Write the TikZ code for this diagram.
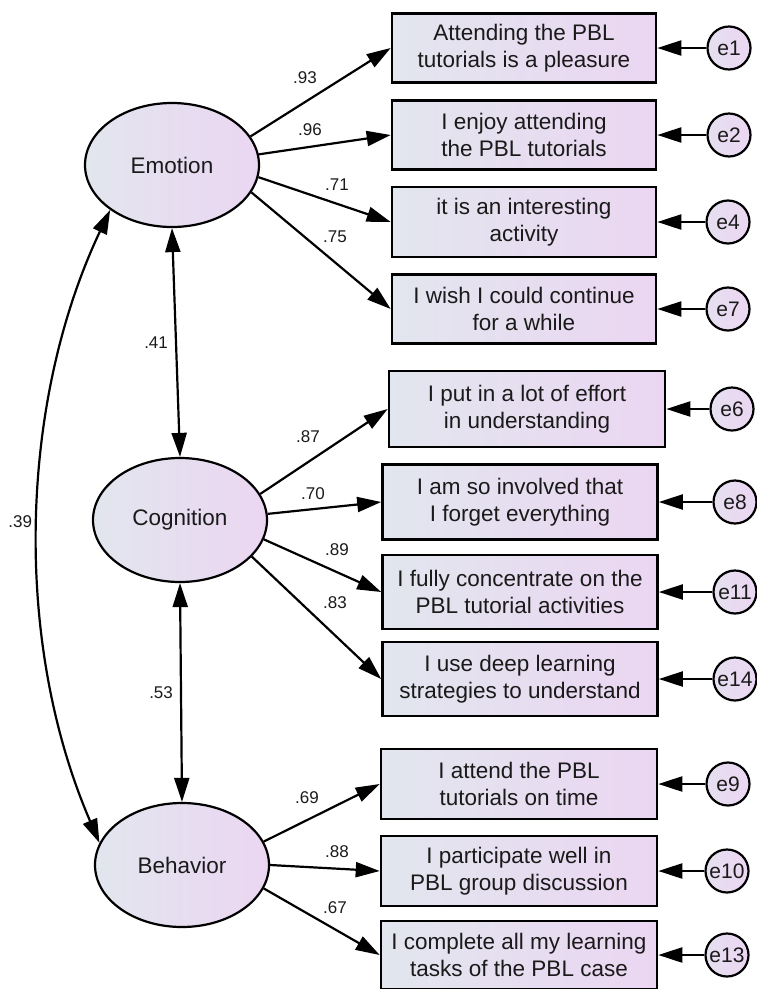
\documentclass[tikz,border=0pt]{standalone}
\usepackage{fontspec}
\setmainfont{Liberation Sans}
\usetikzlibrary{arrows.meta,shapes.geometric}
\definecolor{semleft}{HTML}{E2E6EE}
\definecolor{semright}{HTML}{EBD6F2}
\definecolor{semtext}{HTML}{1A1A1A}
\tikzset{
  latent/.style={ellipse, draw, line width=2.2pt, left color=semleft,
    right color=semright, minimum width=174pt, minimum height=124pt,
    inner sep=0pt, text=semtext, font=\fontsize{22.5}{26}\selectfont},
  item/.style={rectangle, draw, line width=2.6pt, left color=semleft,
    right color=semright, align=center, inner sep=0pt, text=semtext,
    font=\fontsize{22.5}{27}\selectfont},
  err/.style={circle, draw, line width=2.2pt, left color=semleft!60!semright,
    right color=semright, minimum size=43pt, inner sep=0pt, text=semtext,
    font=\fontsize{21}{21}\selectfont},
  lbl/.style={inner sep=0pt, text=semtext, font=\fontsize{17}{17}\selectfont},
  loading/.style={line width=2.2pt, -{Triangle[length=24pt,width=15pt]}},
  covar/.style={line width=2.2pt,
    {Triangle[length=24pt,width=15pt]}-{Triangle[length=24pt,width=15pt]}}
}
\begin{document}
\begin{tikzpicture}[x=1pt,y=-1pt]
  \useasboundingbox (0,0) rectangle (756,989);
  % latent factors
  \node[latent] (emo) at (172,165) {Emotion};
  \node[latent] (cog) at (180,520) {Cognition};
  \node[latent] (beh) at (182,865) {Behavior};
  % items with their error terms
  \foreach \nm/\x/\y/\w/\h/\txt/\e/\ex in {
    b1/524/48/264/69/{Attending the PBL\\tutorials is a pleasure}/e1/729,
    b2/524/135/264/69/{I enjoy attending\\the PBL tutorials}/e2/729,
    b3/524/222/264/70/{it is an interesting\\activity}/e4/728,
    b4/524/309/264/69/{I wish I could continue\\for a while}/e7/728,
    b5/527/409/276/76/{I put in a lot of effort\\in understanding}/e6/732,
    b6/520/502/275/75/{I am so involved that\\I forget everything}/e8/735,
    b7/520/592/275/74/{I fully concentrate on the\\PBL tutorial activities}/e11/735,
    b8/520/679/275/74/{I use deep learning\\strategies to understand}/e14/735,
    b9/519/784/276/70/{I attend the PBL\\tutorials on time}/e9/728,
    b10/519/871/276/70/{I participate well in\\PBL group discussion}/e10/727,
    b11/519/955/276/68/{I complete all my learning\\tasks of the PBL case}/e13/727}{
    \node[item, minimum width=\w pt, minimum height=\h pt] (\nm) at (\x,\y) {\txt};
    \node[err] (\e) at (\ex,\y) {\e};
    \draw[loading] (\e) -- (\nm);
  }
  % factor loadings
  \foreach \src/\ang/\dst/\val/\lx/\ly in {
    emo/20/b1/.93/305/78, emo/7/b2/.96/310/130,
    emo/-8/b3/.71/337/185, emo/-19/b4/.75/335/237,
    cog/18/b5/.87/308/437, cog/4/b6/.70/313/494,
    cog/-13/b7/.89/337/550, cog/-27/b8/.83/335/603,
    beh/16/b9/.69/307/798, beh/0/b10/.88/337/852,
    beh/-16/b11/.67/335/908}{
    \draw[loading] (\src.\ang) -- (\dst.west);
    \node[lbl] (l-\dst) at (\lx,\ly) {\val};
  }
  % correlations
  \draw[covar] (emo.south) -- node[lbl, left=7pt] (r41) {.41} (cog.north);
  \draw[covar] (cog.south) -- node[lbl, left=7pt] (r53) {.53} (beh.north);
  \draw[covar] (emo.216) .. controls (20,400) and (12,640) ..
    node[lbl, left=5pt] (r39) {.39} (beh.165);
\end{tikzpicture}
\end{document}
